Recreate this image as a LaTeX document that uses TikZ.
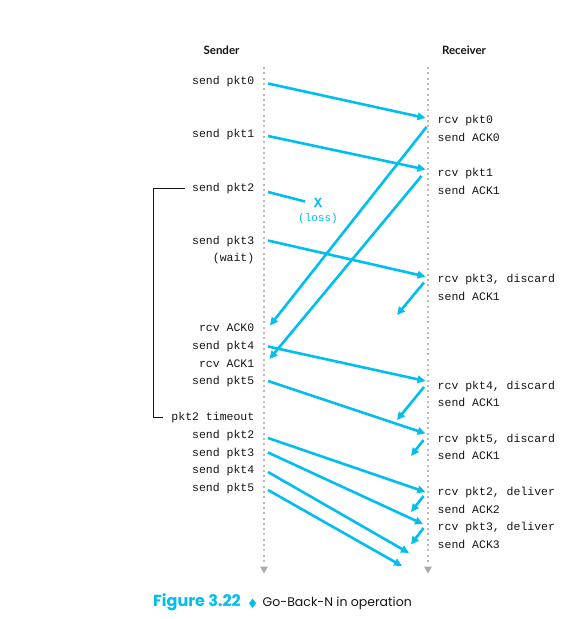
\documentclass[tikz,border=0pt]{standalone}
\usepackage{fontspec}
\usetikzlibrary{arrows.meta}
\newfontfamily\labelfont{Liberation Mono}
\newfontfamily\headfont{Lato}
\newfontfamily\capfont{Poppins}
\newfontfamily\symfont{DejaVu Sans}
\definecolor{pktcyan}{RGB}{0,190,240}
\definecolor{lifegray}{RGB}{185,185,185}
\definecolor{tipgray}{RGB}{170,170,170}
\definecolor{inkgray}{RGB}{20,20,20}
\begin{document}
\begin{tikzpicture}[x=1pt,y=-1pt,
  msg/.style={line width=2.6pt, draw=pktcyan, -{Triangle[length=8pt,width=7.5pt]}},
  lostmsg/.style={line width=2.6pt, draw=pktcyan},
  lefttxt/.style={anchor=mid east, inner sep=0pt, yshift=-1.8pt, text=inkgray,
    font=\labelfont\fontsize{11.5}{12}\selectfont},
  righttxt/.style={anchor=mid west, inner sep=0pt, yshift=-1.8pt, text=inkgray,
    font=\labelfont\fontsize{11.5}{12}\selectfont},
  head/.style={inner sep=0pt, text=inkgray, font=\headfont\bfseries\fontsize{11.5}{13}\selectfont},
  lifeline/.style={draw=lifegray, line width=2pt, dash pattern=on 2pt off 3.3pt},
  lifetip/.style={fill=tipgray, draw=none},
  bracket/.style={draw=inkgray, line width=0.8pt},
]
\useasboundingbox (0,0) rectangle (581,619);

% column headings
\node[head] (sender) at (221.5,50.5) {Sender};
\node[head] (receiver) at (464,50.5) {Receiver};

% time lines of the two hosts
\coordinate (stop) at (264,67);
\coordinate (sbot) at (264,564);
\coordinate (rtop) at (428,67);
\coordinate (rbot) at (428,564);
\draw[lifeline] (stop) -- (sbot);
\draw[lifeline] (rtop) -- (rbot);
\fill[lifetip] (260,566.5) -- (268,566.5) -- (264,573.5) -- cycle;
\fill[lifetip] (424,566.5) -- (432,566.5) -- (428,573.5) -- cycle;

% sender events
\node[lefttxt] (ls0) at (254.5,80.5) {send pkt0};
\node[lefttxt] (ls1) at (254.5,133.3) {send pkt1};
\node[lefttxt] (ls2) at (254.5,187.5) {send pkt2};
\node[lefttxt] (ls3) at (254.5,240.5) {send pkt3};
\node[lefttxt] (lwait) at (254.5,257.7) {(wait)};
\node[lefttxt] (la0) at (254.5,328) {rcv ACK0};
\node[lefttxt] (ls4) at (254.5,346) {send pkt4};
\node[lefttxt] (la1) at (254.5,363.3) {rcv ACK1};
\node[lefttxt] (ls5) at (254.5,381) {send pkt5};
\node[lefttxt] (lto) at (254.5,417) {pkt2 timeout};
\node[lefttxt] (lr2) at (254.5,434.5) {send pkt2};
\node[lefttxt] (lr3) at (254.5,452.5) {send pkt3};
\node[lefttxt] (lr4) at (254.5,469.5) {send pkt4};
\node[lefttxt] (lr5) at (254.5,487.3) {send pkt5};

% receiver events
\node[righttxt] (rp0) at (437.5,119.3) {rcv pkt0};
\node[righttxt] (ra0) at (437.5,137.7) {send ACK0};
\node[righttxt] (rp1) at (437.5,173) {rcv pkt1};
\node[righttxt] (ra1) at (437.5,190.7) {send ACK1};
\node[righttxt] (rp3) at (437.5,279) {rcv pkt3, discard};
\node[righttxt] (ra1b) at (437.5,296.3) {send ACK1};
\node[righttxt] (rp4) at (437.5,385.3) {rcv pkt4, discard};
\node[righttxt] (ra1c) at (437.5,402.7) {send ACK1};
\node[righttxt] (rp5) at (437.5,438.7) {rcv pkt5, discard};
\node[righttxt] (ra1d) at (437.5,455.7) {send ACK1};
\node[righttxt] (rd2) at (437.5,491.7) {rcv pkt2, deliver};
\node[righttxt] (ra2) at (437.5,509.3) {send ACK2};
\node[righttxt] (rd3) at (437.5,526.7) {rcv pkt3, deliver};
\node[righttxt] (ra3) at (437.5,544.3) {send ACK3};

% timer bracket for pkt2
\coordinate (bt) at (185,188);
\coordinate (bb) at (163,417);
\draw[bracket] (bt) -- (153,188) -- (153,417) -- (bb);

% loss marker
\node[inner sep=0pt, text=pktcyan, font=\labelfont\bfseries\fontsize{14}{14}\selectfont] (lossx) at (318,203) {X};
\node[inner sep=0pt, text=pktcyan, font=\labelfont\fontsize{11}{12}\selectfont] (losstxt) at (318,219) {(loss)};

% message end points
\coordinate (p0a) at (268,83.5);   \coordinate (p0b) at (425.5,118);
\coordinate (p1a) at (268,136);    \coordinate (p1b) at (425.5,169.5);
\coordinate (p2a) at (268,192);    \coordinate (p2b) at (305,201.5);
\coordinate (p3a) at (268,240.5);  \coordinate (p3b) at (425.5,276.5);
\coordinate (k0a) at (426.5,127);  \coordinate (k0b) at (270,325.5);
\coordinate (k1a) at (421.5,176);  \coordinate (k1b) at (269.5,359);
\coordinate (k1ca) at (424,282.5); \coordinate (k1cb) at (397,315);
\coordinate (p4a) at (268,346.5);  \coordinate (p4b) at (425.5,381);
\coordinate (k1da) at (424,387);   \coordinate (k1db) at (397,420);
\coordinate (p5a) at (268,381);    \coordinate (p5b) at (425.5,433.5);
\coordinate (k1ea) at (423.5,440); \coordinate (k1eb) at (411,456);
\coordinate (q2a) at (268,438);    \coordinate (q2b) at (425.5,492);
\coordinate (k2a) at (423.5,496);  \coordinate (k2b) at (411,512);
\coordinate (q3a) at (268,452.5);  \coordinate (q3b) at (423,524);
\coordinate (k3a) at (423.5,528);  \coordinate (k3b) at (411,544.5);
\coordinate (q4a) at (268,472);    \coordinate (q4b) at (409,553);
\coordinate (q5a) at (268,490);    \coordinate (q5b) at (402,566);

% packets and acknowledgements
\draw[msg] (p0a) -- (p0b);
\draw[msg] (p1a) -- (p1b);
\draw[lostmsg] (p2a) -- (p2b);
\draw[msg] (p3a) -- (p3b);
\draw[msg] (k0a) -- (k0b);
\draw[msg] (k1a) -- (k1b);
\draw[msg] (k1ca) -- (k1cb);
\draw[msg] (p4a) -- (p4b);
\draw[msg] (k1da) -- (k1db);
\draw[msg] (p5a) -- (p5b);
\draw[msg] (k1ea) -- (k1eb);
\draw[msg] (q2a) -- (q2b);
\draw[msg] (k2a) -- (k2b);
\draw[msg] (q3a) -- (q3b);
\draw[msg] (k3a) -- (k3b);
\draw[msg] (q4a) -- (q4b);
\draw[msg] (q5a) -- (q5b);

% caption
\node[anchor=mid west, inner sep=0pt, text=pktcyan, font=\capfont\bfseries\fontsize{16}{17}\selectfont] (capnum) at (153,604) {Figure 3.22};
\node[inner sep=0pt, text=pktcyan, font=\symfont\fontsize{13}{13}\selectfont] (capsym) at (252.7,604) {♦};
\node[anchor=mid west, inner sep=0pt, text=inkgray, font=\capfont\fontsize{12.5}{14}\selectfont] (captxt) at (262.5,604) {Go-Back-N in operation};
\end{tikzpicture}
\end{document}
